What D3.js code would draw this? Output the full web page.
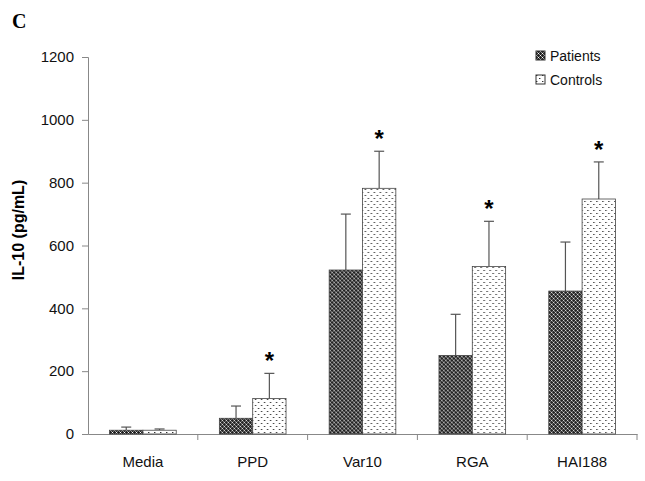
<!DOCTYPE html>
<html>
<head>
<meta charset="utf-8">
<script src="https://cdn.jsdelivr.net/npm/d3@7"></script>
<style>
  body { margin: 0; background: #fff; }
  svg { font-family: Arial, "Liberation Sans", sans-serif; }
</style>
</head>
<body>
<div id="chart"></div>
<script>
const categories = ["Media", "PPD", "Var10", "RGA", "HAI188"];
const series = ["Patients", "Controls"];
const patientMeans = [12, 50, 522, 250, 455];
const patientErrTop = [22, 89, 700, 381, 611];
const controlMeans = [12, 113, 782, 533, 748];
const controlErrTop = [16, 193, 900, 677, 866];
const significant = [false, true, true, true, true];
const yTicks = [0, 200, 400, 600, 800, 1000, 1200];

const width = 645, height = 481;
const margin = { top: 57, right: 8, bottom: 47, left: 88 };

const svg = d3.select("#chart").append("svg")
    .attr("width", width)
    .attr("height", height);

// fill patterns
const defs = svg.append("defs");
const pat1 = defs.append("pattern")
    .attr("id", "pat-patients")
    .attr("patternUnits", "userSpaceOnUse")
    .attr("width", 4).attr("height", 4);
pat1.append("rect").attr("width", 4).attr("height", 4).attr("fill", "#222");
pat1.append("rect").attr("x", 0).attr("y", 0).attr("width", 1).attr("height", 1).attr("fill", "#fff");
pat1.append("rect").attr("x", 2).attr("y", 2).attr("width", 1).attr("height", 1).attr("fill", "#fff");
pat1.append("rect").attr("x", 1).attr("y", 1).attr("width", 1).attr("height", 1).attr("fill", "#999");
pat1.append("rect").attr("x", 3).attr("y", 3).attr("width", 1).attr("height", 1).attr("fill", "#999");
pat1.append("rect").attr("x", 3).attr("y", 1).attr("width", 1).attr("height", 1).attr("fill", "#777");
pat1.append("rect").attr("x", 1).attr("y", 3).attr("width", 1).attr("height", 1).attr("fill", "#777");

const pat2 = defs.append("pattern")
    .attr("id", "pat-controls")
    .attr("patternUnits", "userSpaceOnUse")
    .attr("width", 6).attr("height", 6);
pat2.append("rect").attr("width", 6).attr("height", 6).attr("fill", "#fff");
pat2.append("rect").attr("x", 0).attr("y", 0).attr("width", 1).attr("height", 1).attr("fill", "#333");
pat2.append("rect").attr("x", 3).attr("y", 3).attr("width", 1).attr("height", 1).attr("fill", "#333");
pat2.append("rect").attr("x", 1).attr("y", 0).attr("width", 1).attr("height", 1).attr("fill", "#aaa");
pat2.append("rect").attr("x", 4).attr("y", 3).attr("width", 1).attr("height", 1).attr("fill", "#aaa");

const x = d3.scaleBand()
    .domain(categories)
    .range([margin.left, width - margin.right])
    .paddingInner(0)
    .paddingOuter(0);

const xSub = d3.scaleBand()
    .domain(series)
    .range([0, x.bandwidth()])
    .paddingInner(0)
    .paddingOuter(1.1 / 1.7);

const y = d3.scaleLinear()
    .domain([0, 1200])
    .range([height - margin.bottom, margin.top]);

// y axis
const yAxis = svg.append("g")
    .attr("transform", `translate(${margin.left},0)`)
    .call(d3.axisLeft(y).tickValues(yTicks).tickFormat(d3.format("d")).tickSize(6).tickPadding(8));
yAxis.select(".domain").attr("stroke", "#888");
yAxis.selectAll(".tick line").attr("stroke", "#888");
yAxis.selectAll(".tick text").attr("font-size", 15).attr("fill", "#111");

// x axis
const xAxis = svg.append("g")
    .attr("transform", `translate(0,${y(0)})`)
    .call(d3.axisBottom(x).tickSize(0).tickPadding(22));
xAxis.select(".domain").attr("stroke", "#888");
xAxis.selectAll(".tick text").attr("font-size", 15).attr("fill", "#111");
xAxis.selectAll(".sep")
    .data(categories.slice(1).concat(["end"]))
    .enter().append("line")
    .attr("class", "sep")
    .attr("x1", (d, i) => i < categories.length - 1 ? x(d) : x.range()[1])
    .attr("x2", (d, i) => i < categories.length - 1 ? x(d) : x.range()[1])
    .attr("y1", 0).attr("y2", 6)
    .attr("stroke", "#888");

const rows = categories.map((c, i) => ({
    cat: c,
    bars: [
        { s: "Patients", v: patientMeans[i], e: patientErrTop[i], fill: "url(#pat-patients)" },
        { s: "Controls", v: controlMeans[i], e: controlErrTop[i], fill: "url(#pat-controls)" }
    ],
    sig: significant[i]
}));

const groups = svg.append("g").selectAll("g")
    .data(rows)
    .enter().append("g")
    .attr("transform", d => `translate(${x(d.cat)},0)`);

// error bars (drawn first, only upward)
groups.selectAll("g.err")
    .data(d => d.bars)
    .enter().append("g")
    .attr("class", "err")
    .each(function(d) {
        const g = d3.select(this);
        const cx = xSub(d.s) + xSub.bandwidth() / 2;
        g.append("line")
            .attr("x1", cx).attr("x2", cx)
            .attr("y1", y(d.v)).attr("y2", y(d.e))
            .attr("stroke", "#555").attr("stroke-width", 1.2);
        g.append("line")
            .attr("x1", cx - 5).attr("x2", cx + 5)
            .attr("y1", y(d.e)).attr("y2", y(d.e))
            .attr("stroke", "#555").attr("stroke-width", 1.2);
    });

groups.selectAll("rect")
    .data(d => d.bars)
    .enter().append("rect")
    .attr("x", d => xSub(d.s))
    .attr("y", d => y(d.v))
    .attr("width", xSub.bandwidth())
    .attr("height", d => y(0) - y(d.v))
    .attr("fill", d => d.fill)
    .attr("stroke", "#444")
    .attr("stroke-width", 0.8);

// significance stars
groups.filter(d => d.sig)
    .append("text")
    .attr("x", xSub("Controls") + xSub.bandwidth() / 2)
    .attr("y", d => y(d.bars[1].e) - 4)
    .attr("text-anchor", "middle")
    .attr("font-size", 24)
    .attr("font-weight", "bold")
    .text("*");

// y label
svg.append("text")
    .attr("transform", `translate(24,230) rotate(-90)`)
    .attr("text-anchor", "middle")
    .attr("font-size", 16)
    .attr("font-weight", "bold")
    .text("IL-10 (pg/mL)");

// panel letter
svg.append("text")
    .attr("x", 12).attr("y", 28)
    .attr("font-family", "'Liberation Serif', 'Times New Roman', serif")
    .attr("font-size", 20)
    .attr("font-weight", "bold")
    .text("C");

// legend
const legend = svg.append("g").attr("transform", "translate(536,51)");
const legItems = legend.selectAll("g")
    .data([{ s: "Patients", fill: "url(#pat-patients)" }, { s: "Controls", fill: "url(#pat-controls)" }])
    .enter().append("g")
    .attr("transform", (d, i) => `translate(0,${i * 24})`);
legItems.append("rect")
    .attr("width", 9).attr("height", 9)
    .attr("fill", d => d.fill)
    .attr("stroke", "#333");
legItems.append("text")
    .attr("x", 14).attr("y", 10)
    .attr("font-size", 14)
    .attr("fill", "#111")
    .text(d => d.s);
</script>
</body>
</html>
